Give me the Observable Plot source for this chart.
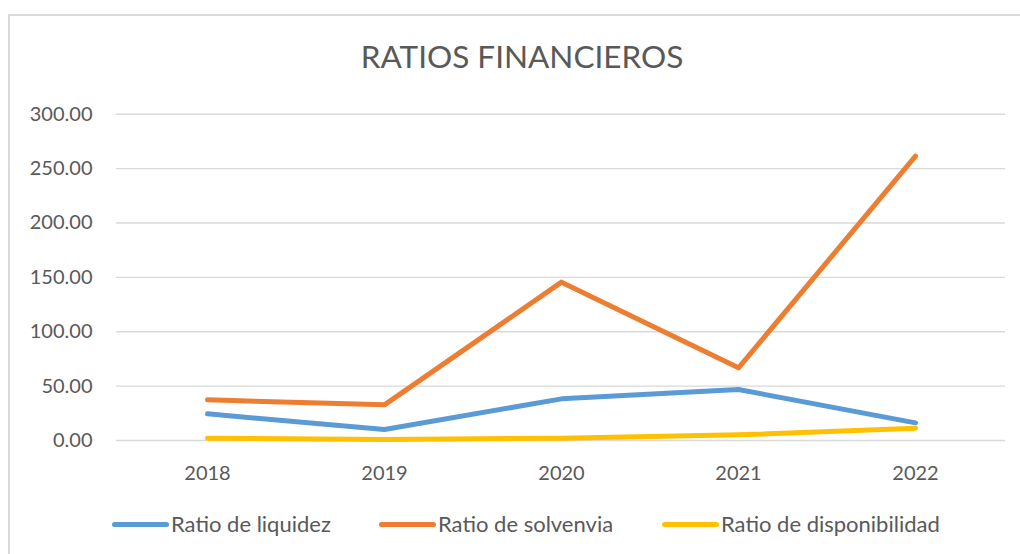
<!DOCTYPE html>
<html>
<head>
<meta charset="utf-8">
<script src="https://cdn.jsdelivr.net/npm/d3@7"></script>
<script src="https://cdn.jsdelivr.net/npm/@observablehq/plot@0.6"></script>
<style>
  html, body { margin: 0; padding: 0; background: #fff; }
  #wrap { position: relative; width: 1020px; height: 554px; overflow: hidden; font-family: Lato, sans-serif; color: #595959; }
  #frame { position: absolute; left: 8px; top: 14px; width: 1100px; height: 700px; border-left: 2px solid #d9d9d9; border-top: 2px solid #d9d9d9; box-sizing: border-box; }
  #title { position: absolute; left: 522px; top: 41px; transform: translateX(-50%); font-size: 31.5px; line-height: 1; white-space: nowrap; }
  #chart { position: absolute; left: 0; top: 0; }
  .leg { position: absolute; top: 512px; display: flex; align-items: center; font-size: 22px; line-height: 24px; white-space: nowrap; }
  .sw { width: 57px; height: 5px; border-radius: 3px; margin-right: 2px; }
</style>
</head>
<body>
<div id="wrap">
  <div id="frame"></div>
  <div id="chart"></div>
  <div id="title">RATIOS FINANCIEROS</div>
  <div id="legend"></div>
</div>
<script>
const years = ["2018", "2019", "2020", "2021", "2022"];
const seriesNames = ["Ratio de liquidez", "Ratio de solvenvia", "Ratio de disponibilidad"];
const liquidez = [24.5, 10.1, 38.3, 46.9, 16.2];
const solvencia = [37.4, 32.8, 145.6, 66.8, 261.4];
const disponibilidad = [2.1, 1.0, 2.1, 5.2, 11.3];
const yTicks = [0, 50, 100, 150, 200, 250, 300];
const colors = ["#5b9bd5", "#ed7d31", "#ffc000"];

const allSeries = [liquidez, solvencia, disponibilidad];
const rows = [];
allSeries.forEach((vals, s) => vals.forEach((v, i) => rows.push({year: years[i], value: v, series: seriesNames[s]})));

const plot = Plot.plot({
  width: 1020,
  height: 554,
  marginLeft: 116,
  marginRight: 15,
  marginTop: 113.7,
  marginBottom: 114,
  style: {fontFamily: "Lato, sans-serif", fontSize: "20px", color: "#595959", background: "transparent"},
  x: {type: "point", domain: years, padding: 0.5, label: null, tickSize: 0, tickPadding: 25},
  y: {domain: [0, 300], ticks: yTicks, tickFormat: d => d.toFixed(2), label: null, tickSize: 0, tickPadding: 24},
  color: {domain: seriesNames, range: colors},
  marks: [
    Plot.gridY(yTicks, {stroke: "#d9d9d9", strokeOpacity: 1, strokeWidth: 1.4}),
    Plot.axisX({tickSize: 0, tickPadding: 25, fill: "#595959"}),
    Plot.axisY({ticks: yTicks, tickFormat: d => d.toFixed(2), tickSize: 0, tickPadding: 24, fill: "#595959"}),
    Plot.line(rows, {x: "year", y: "value", z: "series", stroke: "series", strokeWidth: 5, strokeLinecap: "round", strokeLinejoin: "round"})
  ]
});
document.getElementById("chart").appendChild(plot);

const legendPos = [112, 379, 662];
const leg = document.getElementById("legend");
seriesNames.forEach((name, i) => {
  const item = document.createElement("div");
  item.className = "leg";
  item.style.left = legendPos[i] + "px";
  const sw = document.createElement("div");
  sw.className = "sw";
  sw.style.background = colors[i];
  const t = document.createElement("span");
  t.textContent = name;
  item.appendChild(sw);
  item.appendChild(t);
  leg.appendChild(item);
});
</script>
</body>
</html>
